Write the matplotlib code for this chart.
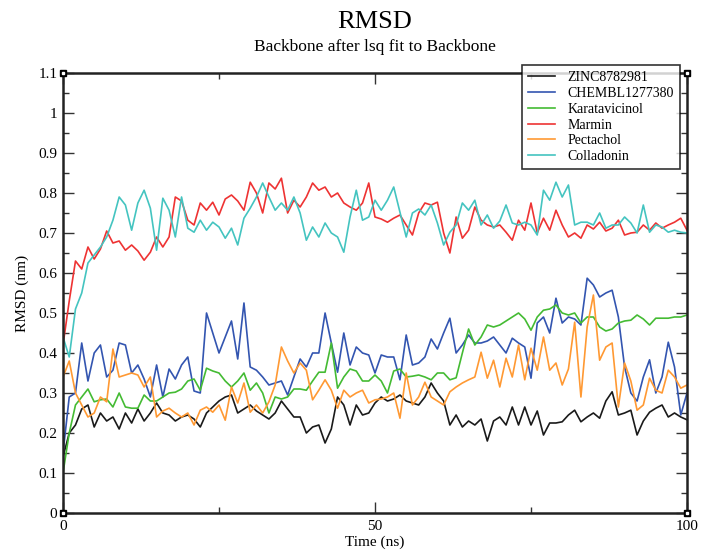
import matplotlib
matplotlib.use("Agg")
import matplotlib.pyplot as plt
import numpy as np
from matplotlib.ticker import MultipleLocator

plt.rcParams['font.family'] = ['Liberation Serif', 'DejaVu Serif']

# time axis, 1 ns steps
time_ns = np.arange(0, 101)

zinc = [0.14, 0.20, 0.22, 0.26, 0.27, 0.215, 0.25, 0.23, 0.24, 0.21,
        0.25, 0.225, 0.26, 0.23, 0.25, 0.275, 0.25, 0.245, 0.23, 0.24,
        0.245, 0.235, 0.215, 0.25, 0.265, 0.28, 0.29, 0.295, 0.25, 0.26,
        0.27, 0.255, 0.245, 0.235, 0.25, 0.28, 0.26, 0.24, 0.24, 0.20,
        0.215, 0.22, 0.175, 0.21, 0.29, 0.27, 0.22, 0.27, 0.245, 0.25,
        0.275, 0.29, 0.28, 0.285, 0.295, 0.28, 0.275, 0.27, 0.29, 0.325,
        0.30, 0.28, 0.22, 0.245, 0.215, 0.23, 0.22, 0.235, 0.18, 0.23,
        0.24, 0.22, 0.265, 0.22, 0.265, 0.22, 0.255, 0.195, 0.225, 0.225,
        0.228, 0.245, 0.257, 0.228, 0.24, 0.25, 0.237, 0.28, 0.303, 0.245,
        0.25, 0.257, 0.195, 0.23, 0.252, 0.262, 0.27, 0.24, 0.25, 0.24,
        0.233]

chembl = [0.15, 0.29, 0.30, 0.425, 0.33, 0.40, 0.42, 0.34, 0.357, 0.425,
          0.42, 0.35, 0.37, 0.335, 0.29, 0.37, 0.29, 0.36, 0.335, 0.37,
          0.39, 0.305, 0.30, 0.50, 0.45, 0.40, 0.44, 0.48, 0.385, 0.525,
          0.365, 0.357, 0.34, 0.32, 0.325, 0.33, 0.295, 0.34, 0.385, 0.365,
          0.40, 0.40, 0.50, 0.425, 0.352, 0.45, 0.37, 0.415, 0.40, 0.395,
          0.35, 0.395, 0.39, 0.39, 0.333, 0.445, 0.37, 0.375, 0.39, 0.435,
          0.41, 0.45, 0.487, 0.40, 0.42, 0.445, 0.425, 0.425, 0.43, 0.44,
          0.42, 0.40, 0.437, 0.425, 0.415, 0.337, 0.475, 0.49, 0.45, 0.537,
          0.475, 0.49, 0.485, 0.47, 0.587, 0.57, 0.54, 0.55, 0.557, 0.49,
          0.365, 0.30, 0.28, 0.34, 0.383, 0.30, 0.34, 0.427, 0.365, 0.245,
          0.30]

karata = [0.10, 0.20, 0.27, 0.29, 0.31, 0.278, 0.283, 0.285, 0.265, 0.30,
          0.265, 0.262, 0.262, 0.295, 0.28, 0.28, 0.29, 0.30, 0.302, 0.31,
          0.33, 0.335, 0.307, 0.362, 0.355, 0.35, 0.33, 0.315, 0.33, 0.35,
          0.307, 0.325, 0.30, 0.25, 0.29, 0.285, 0.29, 0.31, 0.31, 0.307,
          0.33, 0.352, 0.352, 0.425, 0.312, 0.34, 0.36, 0.355, 0.33, 0.33,
          0.345, 0.33, 0.30, 0.355, 0.36, 0.34, 0.342, 0.345, 0.34, 0.333,
          0.35, 0.35, 0.333, 0.338, 0.40, 0.46, 0.42, 0.44, 0.47, 0.465,
          0.47, 0.48, 0.49, 0.50, 0.485, 0.457, 0.49, 0.507, 0.51, 0.52,
          0.50, 0.495, 0.50, 0.475, 0.49, 0.49, 0.465, 0.455, 0.46, 0.475,
          0.48, 0.482, 0.495, 0.485, 0.47, 0.487, 0.487, 0.487, 0.49, 0.49,
          0.495]

marmin = [0.42, 0.53, 0.63, 0.61, 0.665, 0.635, 0.66, 0.705, 0.675, 0.68,
          0.657, 0.67, 0.655, 0.632, 0.652, 0.69, 0.665, 0.69, 0.79, 0.78,
          0.732, 0.72, 0.775, 0.757, 0.777, 0.745, 0.785, 0.795, 0.78, 0.757,
          0.827, 0.80, 0.75, 0.825, 0.81, 0.837, 0.75, 0.782, 0.765, 0.79,
          0.825, 0.807, 0.815, 0.79, 0.80, 0.775, 0.765, 0.757, 0.775, 0.825,
          0.74, 0.735, 0.727, 0.737, 0.745, 0.72, 0.695, 0.75, 0.775, 0.77,
          0.777, 0.70, 0.65, 0.74, 0.687, 0.707, 0.765, 0.732, 0.72, 0.715,
          0.72, 0.702, 0.682, 0.732, 0.707, 0.775, 0.70, 0.737, 0.707, 0.757,
          0.72, 0.69, 0.70, 0.687, 0.72, 0.71, 0.727, 0.705, 0.712, 0.732,
          0.695, 0.70, 0.702, 0.72, 0.707, 0.725, 0.712, 0.72, 0.727, 0.737,
          0.707]

pectachol = [0.34, 0.38, 0.30, 0.27, 0.24, 0.25, 0.29, 0.278, 0.41, 0.34,
             0.345, 0.35, 0.345, 0.315, 0.34, 0.24, 0.255, 0.262, 0.25, 0.24,
             0.25, 0.22, 0.257, 0.265, 0.252, 0.27, 0.232, 0.315, 0.275, 0.325,
             0.252, 0.27, 0.25, 0.278, 0.32, 0.415, 0.38, 0.35, 0.375, 0.357,
             0.283, 0.307, 0.333, 0.307, 0.262, 0.307, 0.29, 0.30, 0.307, 0.275,
             0.283, 0.285, 0.29, 0.30, 0.237, 0.35, 0.27, 0.29, 0.327, 0.29,
             0.28, 0.27, 0.303, 0.315, 0.325, 0.333, 0.34, 0.402, 0.337, 0.382,
             0.315, 0.387, 0.34, 0.42, 0.333, 0.412, 0.357, 0.44, 0.357, 0.375,
             0.32, 0.36, 0.477, 0.29, 0.465, 0.545, 0.382, 0.415, 0.425, 0.265,
             0.375, 0.33, 0.257, 0.27, 0.337, 0.307, 0.30, 0.357, 0.34, 0.312,
             0.32]

colladonin = [0.44, 0.39, 0.51, 0.55, 0.625, 0.645, 0.665, 0.69, 0.732, 0.79,
              0.77, 0.707, 0.775, 0.807, 0.762, 0.657, 0.787, 0.757, 0.69, 0.79,
              0.712, 0.702, 0.732, 0.707, 0.727, 0.715, 0.687, 0.712, 0.67, 0.737,
              0.762, 0.79, 0.825, 0.79, 0.757, 0.775, 0.757, 0.79, 0.75, 0.682,
              0.715, 0.69, 0.725, 0.70, 0.69, 0.652, 0.74, 0.807, 0.732, 0.74,
              0.782, 0.757, 0.782, 0.815, 0.752, 0.69, 0.75, 0.76, 0.745, 0.77,
              0.725, 0.67, 0.702, 0.72, 0.775, 0.757, 0.782, 0.72, 0.745, 0.712,
              0.73, 0.77, 0.725, 0.72, 0.727, 0.72, 0.695, 0.807, 0.782, 0.827,
              0.79, 0.82, 0.72, 0.727, 0.727, 0.72, 0.75, 0.712, 0.72, 0.72,
              0.74, 0.725, 0.70, 0.77, 0.702, 0.72, 0.715, 0.702, 0.707, 0.702,
              0.70]

names = ["ZINC8782981", "CHEMBL1277380", "Karatavicinol", "Marmin", "Pectachol", "Colladonin"]
series = [zinc, chembl, karata, marmin, pectachol, colladonin]
colors = ["#1a1a1a", "#3355b0", "#44bb33", "#ee3333", "#ff9933", "#44c4c0"]
ytick_labels = ["0", "0.1", "0.2", "0.3", "0.4", "0.5", "0.6", "0.7", "0.8", "0.9", "1", "1.1"]

fig = plt.figure(figsize=(7.05, 5.5), dpi=100)
ax = fig.add_axes([63/705, 1 - 513/550, 624/705, 440/550])

for name, vals, c in zip(names, series, colors):
    ax.plot(time_ns, vals, color=c, lw=1.2, label=name)

ax.set_xlim(0, 100)
ax.set_ylim(0, 1.1)
ax.xaxis.set_major_locator(MultipleLocator(50))
ax.xaxis.set_minor_locator(MultipleLocator(25))
ax.set_yticks(np.arange(0, 1.11, 0.1))
ax.set_yticklabels(ytick_labels)
ax.yaxis.set_minor_locator(MultipleLocator(0.05))
ax.tick_params(which='both', direction='in', top=True, right=True, labelsize=11, color='#333333')
ax.tick_params(axis='x', pad=5)
ax.tick_params(axis='y', pad=4)
ax.tick_params(which='major', length=8, width=1)
ax.tick_params(which='minor', length=4, width=1)
for sp in ax.spines.values():
    sp.set_linewidth(1.8)
    sp.set_color('#222222')

ax.set_xlabel("Time (ns)", fontsize=11, labelpad=2)
ax.set_ylabel("RMSD (nm)", fontsize=11, labelpad=7)

fig.text(375/705, 1 - 22/550, "RMSD", ha='center', va='center', fontsize=19)
fig.text(375/705, 1 - 47/550, "Backbone after lsq fit to Backbone", ha='center', va='center', fontsize=12.5)

# Grace-style corner squares
x0, x1 = ax.get_xlim()
y0, y1 = ax.get_ylim()
for cx in (x0, x1):
    for cy in (y0, y1):
        ax.plot(cx, cy, marker='s', ms=5, color='black', clip_on=False, zorder=5)
        ax.plot(cx, cy, marker='s', ms=1.8, color='white', clip_on=False, zorder=6)

leg = fig.legend(loc='upper right', bbox_to_anchor=(680/705, 1 - 65/550), fontsize=10,
                 frameon=True, fancybox=False, edgecolor='black', handlelength=1.9,
                 handletextpad=0.9, labelspacing=0.2, borderpad=0.45, borderaxespad=0)
leg.get_frame().set_linewidth(1.2)
leg.set_zorder(10)

fig.savefig("out.png", dpi=100)
